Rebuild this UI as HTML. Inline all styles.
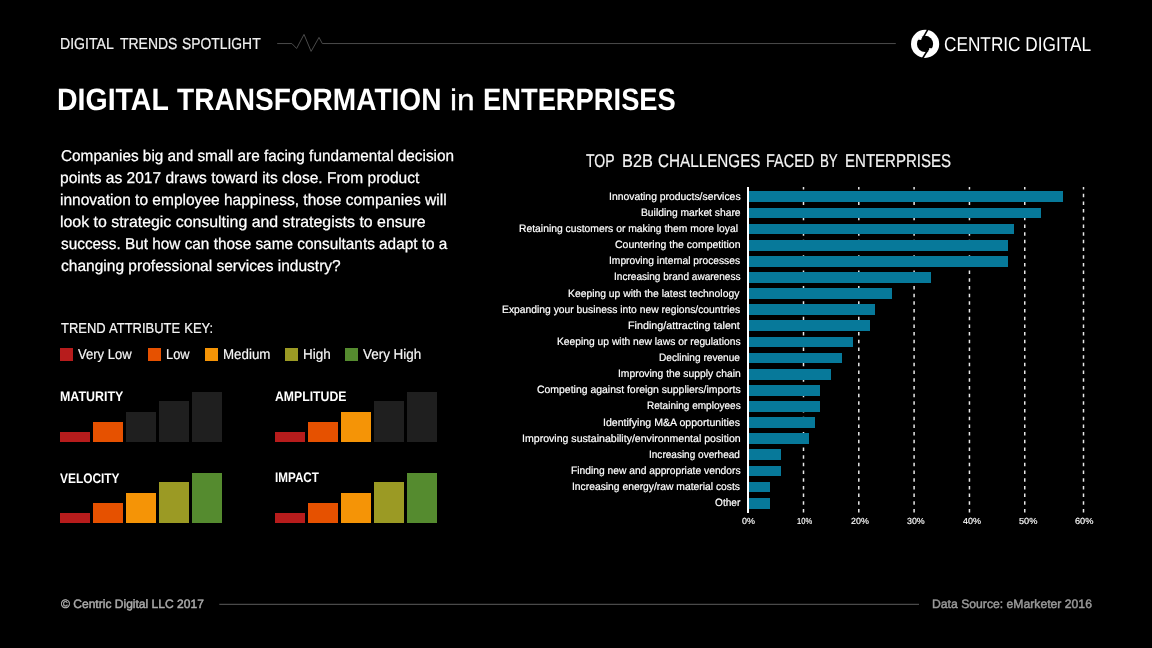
<!DOCTYPE html>
<html lang="en"><head><meta charset="utf-8"><title>Digital Trends Spotlight</title>
<style>
html,body{margin:0;padding:0;background:#000;}
body{width:1152px;height:648px;position:relative;overflow:hidden;font-family:"Liberation Sans", sans-serif;color:#fff;}
.t{position:absolute;white-space:nowrap;line-height:1;transform-origin:0 0;text-rendering:geometricPrecision;}
.b{position:absolute;}
svg{position:absolute;left:0;top:0;}
</style></head><body>
<svg width="1152" height="648" viewBox="0 0 1152 648">
<polyline fill="none" stroke="#4b4b4b" stroke-width="1" stroke-linejoin="miter" points="277.2,43.55 291.9,43.55 296.6,48.5 304,34.4 311.1,51.4 319,37.4 322.3,43.55 895.8,43.55"/>
<line x1="219.3" y1="604.4" x2="919" y2="604.4" stroke="#4a4a4a" stroke-width="1.1"/>
<g>
<circle cx="925.1" cy="43.9" r="14.1" fill="#fff"/>
<circle cx="925.05" cy="43.9" r="8.1" fill="#000"/>
<polygon points="917.8,39.4 921.2,39.9 923.0,36.6 920,36" fill="#fff"/>
<polygon points="932.4,48.4 929.1,47.9 927.3,51.2 930.2,51.8" fill="#fff"/>
<line x1="928.5" y1="28.4" x2="921.9" y2="39.6" stroke="#000" stroke-width="1.6"/>
<line x1="928.9" y1="48.3" x2="922.0" y2="59.3" stroke="#000" stroke-width="1.6"/>
</g>
<line x1="803.50" y1="186.9" x2="803.50" y2="512.6" stroke="#e8e8e8" stroke-width="1.5" stroke-dasharray="3.5 4.19" stroke-dashoffset="0.9"/>
<line x1="858.80" y1="186.9" x2="858.80" y2="512.6" stroke="#e8e8e8" stroke-width="1.5" stroke-dasharray="3.5 4.19" stroke-dashoffset="0.9"/>
<line x1="914.10" y1="186.9" x2="914.10" y2="512.6" stroke="#e8e8e8" stroke-width="1.5" stroke-dasharray="3.5 4.19" stroke-dashoffset="0.9"/>
<line x1="969.45" y1="186.9" x2="969.45" y2="512.6" stroke="#e8e8e8" stroke-width="1.5" stroke-dasharray="3.5 4.19" stroke-dashoffset="0.9"/>
<line x1="1024.75" y1="186.9" x2="1024.75" y2="512.6" stroke="#e8e8e8" stroke-width="1.5" stroke-dasharray="3.5 4.19" stroke-dashoffset="0.9"/>
<line x1="1083.50" y1="186.9" x2="1083.50" y2="512.6" stroke="#e8e8e8" stroke-width="1.5" stroke-dasharray="3.5 4.19" stroke-dashoffset="0.9"/>
</svg>
<div class="b" style="left:749.3px;top:191.450px;width:313.21px;height:10.8px;background:#07799a"></div>
<div class="b" style="left:749.3px;top:207.575px;width:292.09px;height:10.8px;background:#07799a"></div>
<div class="b" style="left:749.3px;top:223.700px;width:264.44px;height:10.8px;background:#07799a"></div>
<div class="b" style="left:749.3px;top:239.825px;width:258.91px;height:10.8px;background:#07799a"></div>
<div class="b" style="left:749.3px;top:255.950px;width:258.91px;height:10.8px;background:#07799a"></div>
<div class="b" style="left:749.3px;top:272.075px;width:181.49px;height:10.8px;background:#07799a"></div>
<div class="b" style="left:749.3px;top:288.200px;width:142.78px;height:10.8px;background:#07799a"></div>
<div class="b" style="left:749.3px;top:304.325px;width:126.19px;height:10.8px;background:#07799a"></div>
<div class="b" style="left:749.3px;top:320.450px;width:120.66px;height:10.8px;background:#07799a"></div>
<div class="b" style="left:749.3px;top:336.575px;width:104.07px;height:10.8px;background:#07799a"></div>
<div class="b" style="left:749.3px;top:352.700px;width:93.01px;height:10.8px;background:#07799a"></div>
<div class="b" style="left:749.3px;top:368.825px;width:81.95px;height:10.8px;background:#07799a"></div>
<div class="b" style="left:749.3px;top:384.950px;width:70.89px;height:10.8px;background:#07799a"></div>
<div class="b" style="left:749.3px;top:401.075px;width:70.89px;height:10.8px;background:#07799a"></div>
<div class="b" style="left:749.3px;top:417.200px;width:66.06px;height:10.8px;background:#07799a"></div>
<div class="b" style="left:749.3px;top:433.325px;width:59.83px;height:10.8px;background:#07799a"></div>
<div class="b" style="left:749.3px;top:449.450px;width:32.18px;height:10.8px;background:#07799a"></div>
<div class="b" style="left:749.3px;top:465.575px;width:32.18px;height:10.8px;background:#07799a"></div>
<div class="b" style="left:749.3px;top:481.700px;width:21.12px;height:10.8px;background:#07799a"></div>
<div class="b" style="left:749.3px;top:497.825px;width:21.12px;height:10.8px;background:#07799a"></div>
<div class="b" style="left:747.2px;top:187.1px;width:2.1px;height:325.5px;background:#fff"></div>
<div class="b" style="left:60.2px;top:348.3px;width:12.7px;height:12.5px;background:#b71c1c"></div>
<div class="b" style="left:148.3px;top:348.3px;width:12.7px;height:12.5px;background:#e65100"></div>
<div class="b" style="left:205.2px;top:348.3px;width:12.7px;height:12.5px;background:#f59406"></div>
<div class="b" style="left:285.4px;top:348.3px;width:12.7px;height:12.5px;background:#9b9a24"></div>
<div class="b" style="left:344.9px;top:348.3px;width:12.7px;height:12.5px;background:#558b2f"></div>
<div class="b" style="left:60px;top:432px;width:30px;height:10px;background:#b71c1c"></div>
<div class="b" style="left:93px;top:422px;width:30px;height:20px;background:#e65100"></div>
<div class="b" style="left:126px;top:412px;width:30px;height:30px;background:#1f1f1f"></div>
<div class="b" style="left:159px;top:401px;width:30px;height:41px;background:#1f1f1f"></div>
<div class="b" style="left:192px;top:392px;width:30px;height:50px;background:#1f1f1f"></div>
<div class="b" style="left:275px;top:432px;width:30px;height:10px;background:#b71c1c"></div>
<div class="b" style="left:308px;top:422px;width:30px;height:20px;background:#e65100"></div>
<div class="b" style="left:341px;top:412px;width:30px;height:30px;background:#f59406"></div>
<div class="b" style="left:374px;top:401px;width:30px;height:41px;background:#1f1f1f"></div>
<div class="b" style="left:407px;top:392px;width:30px;height:50px;background:#1f1f1f"></div>
<div class="b" style="left:60px;top:513px;width:30px;height:10px;background:#b71c1c"></div>
<div class="b" style="left:93px;top:503px;width:30px;height:20px;background:#e65100"></div>
<div class="b" style="left:126px;top:493px;width:30px;height:30px;background:#f59406"></div>
<div class="b" style="left:159px;top:482px;width:30px;height:41px;background:#9b9a24"></div>
<div class="b" style="left:192px;top:473px;width:30px;height:50px;background:#558b2f"></div>
<div class="b" style="left:275px;top:513px;width:30px;height:10px;background:#b71c1c"></div>
<div class="b" style="left:308px;top:503px;width:30px;height:20px;background:#e65100"></div>
<div class="b" style="left:341px;top:493px;width:30px;height:30px;background:#f59406"></div>
<div class="b" style="left:374px;top:482px;width:30px;height:41px;background:#9b9a24"></div>
<div class="b" style="left:407px;top:473px;width:30px;height:50px;background:#558b2f"></div>
<div id="txt" style="position:absolute;left:0;top:0;width:1152px;height:648px;will-change:transform;">
<span class="t" style="left:59.81px;top:37px;font-size:15.84px;color:#f0f0f0;-webkit-text-stroke:0.2px #f0f0f0;transform:scaleX(0.8903);">DIGITAL</span>
<span class="t" style="left:119.60px;top:37px;font-size:15.84px;color:#f0f0f0;-webkit-text-stroke:0.2px #f0f0f0;transform:scaleX(0.8819);">TRENDS</span>
<span class="t" style="left:181.90px;top:37px;font-size:15.84px;color:#f0f0f0;-webkit-text-stroke:0.2px #f0f0f0;transform:scaleX(0.8762);">SPOTLIGHT</span>
<span class="t" style="left:57.36px;top:85px;font-size:30.96px;font-weight:700;transform:scaleX(0.9200);">DIGITAL</span>
<span class="t" style="left:177.20px;top:85px;font-size:30.96px;font-weight:700;transform:scaleX(0.9064);">TRANSFORMATION</span>
<span class="t" style="left:449.97px;top:86px;font-size:29.8px;-webkit-text-stroke:0.3px #fff;transform:scaleX(1.0646);">in</span>
<span class="t" style="left:482.93px;top:85px;font-size:30.96px;font-weight:700;transform:scaleX(0.8827);">ENTERPRISES</span>
<span class="t" style="left:61.20px;top:149px;font-size:15.7px;-webkit-text-stroke:0.25px #fff;transform:scaleX(0.9778);">Companies big and small are facing fundamental decision</span>
<span class="t" style="left:60.21px;top:171px;font-size:15.7px;-webkit-text-stroke:0.25px #fff;transform:scaleX(0.9907);">points as 2017 draws toward its close. From product</span>
<span class="t" style="left:60.21px;top:193px;font-size:15.7px;-webkit-text-stroke:0.25px #fff;transform:scaleX(0.9895);">innovation to employee happiness, those companies will</span>
<span class="t" style="left:60.19px;top:215px;font-size:15.7px;-webkit-text-stroke:0.25px #fff;transform:scaleX(1.0128);">look to strategic consulting and strategists to ensure</span>
<span class="t" style="left:61.20px;top:237px;font-size:15.7px;-webkit-text-stroke:0.25px #fff;transform:scaleX(0.9780);">success. But how can those same consultants adapt to a</span>
<span class="t" style="left:61.20px;top:259px;font-size:15.7px;-webkit-text-stroke:0.25px #fff;transform:scaleX(0.9901);">changing professional services industry?</span>
<span class="t" style="left:60.80px;top:322px;font-size:14.39px;color:#f4f4f4;word-spacing:0.5px;-webkit-text-stroke:0.2px #f4f4f4;transform:scaleX(0.9028);">TREND ATTRIBUTE KEY:</span>
<span class="t" style="left:78.20px;top:348px;font-size:14.24px;color:#f4f4f4;-webkit-text-stroke:0.2px #f4f4f4;transform:scaleX(0.9159);">Very Low</span>
<span class="t" style="left:165.80px;top:348px;font-size:14.24px;color:#f4f4f4;-webkit-text-stroke:0.2px #f4f4f4;transform:scaleX(0.9015);">Low</span>
<span class="t" style="left:222.66px;top:348px;font-size:14.24px;color:#f4f4f4;-webkit-text-stroke:0.2px #f4f4f4;transform:scaleX(0.9368);">Medium</span>
<span class="t" style="left:302.55px;top:348px;font-size:14.24px;color:#f4f4f4;-webkit-text-stroke:0.2px #f4f4f4;transform:scaleX(0.9465);">High</span>
<span class="t" style="left:363.30px;top:348px;font-size:14.24px;color:#f4f4f4;-webkit-text-stroke:0.2px #f4f4f4;transform:scaleX(0.9440);">Very High</span>
<span class="t" style="left:59.90px;top:390px;font-size:13.81px;font-weight:700;transform:scaleX(0.9008);">MATURITY</span>
<span class="t" style="left:275.10px;top:390px;font-size:13.81px;font-weight:700;transform:scaleX(0.8869);">AMPLITUDE</span>
<span class="t" style="left:60.00px;top:472px;font-size:13.81px;font-weight:700;transform:scaleX(0.8634);">VELOCITY</span>
<span class="t" style="left:275.10px;top:471px;font-size:13.81px;font-weight:700;transform:scaleX(0.8468);">IMPACT</span>
<span class="t" style="left:586.30px;top:152px;font-size:18.46px;color:#f4f4f4;-webkit-text-stroke:0.2px #f4f4f4;transform:scaleX(0.7591);">TOP</span>
<span class="t" style="left:621.62px;top:152px;font-size:18.46px;color:#f4f4f4;-webkit-text-stroke:0.2px #f4f4f4;transform:scaleX(0.8849);">B2B</span>
<span class="t" style="left:658.30px;top:152px;font-size:18.46px;color:#f4f4f4;-webkit-text-stroke:0.2px #f4f4f4;transform:scaleX(0.8270);">CHALLENGES</span>
<span class="t" style="left:766.22px;top:152px;font-size:18.46px;color:#f4f4f4;-webkit-text-stroke:0.2px #f4f4f4;transform:scaleX(0.7845);">FACED</span>
<span class="t" style="left:820.38px;top:152px;font-size:18.46px;color:#f4f4f4;-webkit-text-stroke:0.2px #f4f4f4;transform:scaleX(0.7207);">BY</span>
<span class="t" style="left:844.98px;top:152px;font-size:18.46px;color:#f4f4f4;-webkit-text-stroke:0.2px #f4f4f4;transform:scaleX(0.8158);">ENTERPRISES</span>
<span class="t" style="left:608.60px;top:192px;font-size:10.6px;-webkit-text-stroke:0.2px #fff;transform:scaleX(0.9801);">Innovating products/services</span>
<span class="t" style="left:640.60px;top:208px;font-size:10.6px;-webkit-text-stroke:0.2px #fff;transform:scaleX(0.9720);">Building market share</span>
<span class="t" style="left:518.70px;top:224px;font-size:10.6px;-webkit-text-stroke:0.2px #fff;transform:scaleX(0.9765);">Retaining customers or making them more loyal</span>
<span class="t" style="left:614.70px;top:240px;font-size:10.6px;-webkit-text-stroke:0.2px #fff;transform:scaleX(0.9911);">Countering the competition</span>
<span class="t" style="left:609.10px;top:256px;font-size:10.6px;-webkit-text-stroke:0.2px #fff;transform:scaleX(0.9679);">Improving internal processes</span>
<span class="t" style="left:613.70px;top:272px;font-size:10.6px;-webkit-text-stroke:0.2px #fff;transform:scaleX(0.9503);">Increasing brand awareness</span>
<span class="t" style="left:568.30px;top:289px;font-size:10.6px;-webkit-text-stroke:0.2px #fff;transform:scaleX(0.9761);">Keeping up with the latest technology</span>
<span class="t" style="left:502.10px;top:305px;font-size:10.6px;-webkit-text-stroke:0.2px #fff;transform:scaleX(0.9742);">Expanding your business into new regions/countries</span>
<span class="t" style="left:628.40px;top:321px;font-size:10.6px;-webkit-text-stroke:0.2px #fff;transform:scaleX(1.0156);">Finding/attracting talent</span>
<span class="t" style="left:556.60px;top:337px;font-size:10.6px;-webkit-text-stroke:0.2px #fff;transform:scaleX(0.9711);">Keeping up with new laws or regulations</span>
<span class="t" style="left:659.20px;top:353px;font-size:10.6px;-webkit-text-stroke:0.2px #fff;transform:scaleX(0.9550);">Declining revenue</span>
<span class="t" style="left:617.50px;top:369px;font-size:10.6px;-webkit-text-stroke:0.2px #fff;transform:scaleX(0.9735);">Improving the supply chain</span>
<span class="t" style="left:536.50px;top:385px;font-size:10.6px;-webkit-text-stroke:0.2px #fff;transform:scaleX(0.9855);">Competing against foreign suppliers/imports</span>
<span class="t" style="left:646.50px;top:401px;font-size:10.6px;-webkit-text-stroke:0.2px #fff;transform:scaleX(0.9469);">Retaining employees</span>
<span class="t" style="left:603.20px;top:418px;font-size:10.6px;-webkit-text-stroke:0.2px #fff;transform:scaleX(0.9984);">Identifying M&amp;A opportunities</span>
<span class="t" style="left:521.50px;top:434px;font-size:10.6px;-webkit-text-stroke:0.2px #fff;transform:scaleX(0.9983);">Improving sustainability/environmental position</span>
<span class="t" style="left:649.30px;top:450px;font-size:10.6px;-webkit-text-stroke:0.2px #fff;transform:scaleX(0.9468);">Increasing overhead</span>
<span class="t" style="left:570.60px;top:466px;font-size:10.6px;-webkit-text-stroke:0.2px #fff;transform:scaleX(0.9695);">Finding new and appropriate vendors</span>
<span class="t" style="left:572.20px;top:482px;font-size:10.6px;-webkit-text-stroke:0.2px #fff;transform:scaleX(0.9737);">Increasing energy/raw material costs</span>
<span class="t" style="left:714.50px;top:498px;font-size:10.6px;-webkit-text-stroke:0.2px #fff;transform:scaleX(0.9565);">Other</span>
<span class="t" style="left:741.90px;top:517px;font-size:8.8px;-webkit-text-stroke:0.15px #fff;transform:scaleX(1.0157);">0%</span>
<span class="t" style="left:796.60px;top:517px;font-size:8.8px;-webkit-text-stroke:0.15px #fff;transform:scaleX(0.8602);">10%</span>
<span class="t" style="left:851.00px;top:517px;font-size:8.8px;-webkit-text-stroke:0.15px #fff;transform:scaleX(1.0119);">20%</span>
<span class="t" style="left:906.90px;top:517px;font-size:8.8px;-webkit-text-stroke:0.15px #fff;transform:scaleX(1.0063);">30%</span>
<span class="t" style="left:962.90px;top:517px;font-size:8.8px;-webkit-text-stroke:0.15px #fff;transform:scaleX(1.0232);">40%</span>
<span class="t" style="left:1018.60px;top:517px;font-size:8.8px;-webkit-text-stroke:0.15px #fff;transform:scaleX(1.0457);">50%</span>
<span class="t" style="left:1074.50px;top:517px;font-size:8.8px;-webkit-text-stroke:0.15px #fff;transform:scaleX(1.0457);">60%</span>
<span class="t" style="left:60.80px;top:598px;font-size:12.2px;color:#ababab;-webkit-text-stroke:0.45px #ababab;transform:scaleX(0.9890);">© Centric Digital LLC 2017</span>
<span class="t" style="left:931.55px;top:598px;font-size:12.2px;color:#9a9a9a;-webkit-text-stroke:0.45px #9a9a9a;transform:scaleX(1.0002);">Data Source: eMarketer 2016</span>
<span class="t" style="left:944.43px;top:36px;font-size:19.91px;transform:scaleX(0.8651);">CENTRIC DIGITAL</span>
</div>
</body></html>
